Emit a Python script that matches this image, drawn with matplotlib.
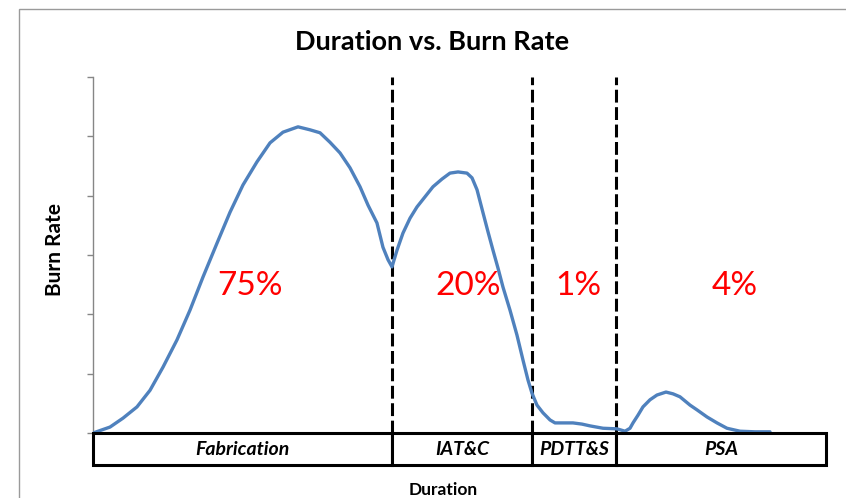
import matplotlib

matplotlib.use("Agg")

import matplotlib.pyplot as plt
from matplotlib.patches import Rectangle

# Duration (percent of program) vs. burn rate
duration = [0.00, 2.32, 4.09, 6.00, 7.78, 9.55, 11.46, 13.23, 15.01, 16.92, 18.69,
            20.46, 22.37, 24.15, 25.92, 27.97, 29.60, 30.97, 32.33, 33.70, 35.06,
            36.43, 37.52, 38.74, 39.56, 40.25, 40.79, 41.47, 42.29, 43.25, 44.20,
            45.29, 46.38, 47.61, 48.70, 49.80, 51.02, 51.71, 52.39, 53.21, 53.89,
            54.57, 55.25, 55.93, 56.89, 57.84, 58.66, 59.35, 59.89, 60.57, 61.39,
            62.35, 63.03, 64.12, 65.48, 66.71, 67.80, 69.58, 71.49, 72.58, 73.26,
            73.67, 74.35, 75.03, 75.99, 76.94, 78.17, 79.13, 80.08, 81.45, 82.40,
            83.77, 85.13, 86.49, 88.27, 90.31, 92.36]
burn_rate = [0.00, 0.10, 0.25, 0.44, 0.72, 1.11, 1.57, 2.07, 2.63, 3.20, 3.72,
             4.18, 4.57, 4.89, 5.07, 5.16, 5.11, 5.06, 4.90, 4.72, 4.47,
             4.15, 3.84, 3.54, 3.13, 2.92, 2.80, 3.08, 3.37, 3.62, 3.81,
             3.98, 4.15, 4.28, 4.38, 4.40, 4.38, 4.30, 4.10, 3.71, 3.39,
             3.08, 2.78, 2.46, 2.07, 1.65, 1.23, 0.89, 0.67, 0.47, 0.34,
             0.22, 0.17, 0.17, 0.17, 0.15, 0.12, 0.08, 0.07, 0.03, 0.08,
             0.17, 0.30, 0.44, 0.56, 0.64, 0.69, 0.66, 0.61, 0.47, 0.39,
             0.27, 0.17, 0.08, 0.03, 0.02, 0.02]

phases = ["Fabrication", "IAT&C", "PDTT&S", "PSA"]
phase_edges = [0.0, 40.8, 59.9, 71.4, 100.0]
phase_share = ["75%", "20%", "1%", "4%"]
share_x = [21.4, 51.2, 66.2, 87.6]

FONT = "Lato"
BLUE = "#4F81BD"

fig = plt.figure(figsize=(8.46, 4.98), dpi=100)
W, H = 846, 498

# outer chart frame (cropped on the right/bottom like the reference)
fig.patches.append(Rectangle((19 / W, -0.02), 1.0, 1 - 9 / H + 0.02,
                             transform=fig.transFigure, fill=False,
                             edgecolor="#9a9a9a", linewidth=1.0))

ax = fig.add_axes([93 / W, 1 - 433 / H, (826 - 93) / W, (433 - 77) / H])
ax.set_xlim(phase_edges[0], phase_edges[-1])
ax.set_ylim(0, 6)

ax.plot(duration, burn_rate, color=BLUE, linewidth=2.4,
        solid_joinstyle="round", solid_capstyle="round", zorder=3)

for edge in phase_edges[1:-1]:
    ax.plot([edge, edge], [0, 6], color="black", linewidth=2.2,
            dashes=(4.2, 1.5), zorder=2)

box_bottom = -0.54
for i, name in enumerate(phases):
    x0, x1 = phase_edges[i], phase_edges[i + 1]
    ax.add_patch(Rectangle((x0, box_bottom), x1 - x0, -box_bottom,
                           facecolor="white", edgecolor="black", linewidth=2.2,
                           clip_on=False, zorder=4))
    ax.text((x0 + x1) / 2, box_bottom / 2, name, ha="center", va="center",
            fontsize=14, fontweight="bold", fontstyle="italic",
            family=FONT, zorder=5, clip_on=False)

for x, share in zip(share_x, phase_share):
    ax.text(x, 2.48, share, ha="center", va="center", color="#ff0000",
            fontsize=24, family=FONT, zorder=5)

for side in ["top", "right", "bottom"]:
    ax.spines[side].set_visible(False)
ax.spines["left"].set_color("#868686")
ax.spines["left"].set_linewidth(1.0)
ax.set_yticks(range(7))
ax.tick_params(axis="y", length=4.5, width=1.0, color="#868686", labelleft=False)
ax.set_xticks([])

fig.text(432 / W, 1 - 42 / H, "Duration vs. Burn Rate", ha="center", va="center",
         fontsize=19.5, fontweight="bold", family=FONT)
fig.text(443 / W, 1 - 490 / H, "Duration", ha="center", va="center",
         fontsize=12.5, fontweight="bold", family=FONT)
fig.text(55 / W, 1 - 250 / H, "Burn Rate", ha="center", va="center", rotation=90,
         fontsize=15, fontweight="bold", family=FONT)

fig.savefig("out.png", dpi=100)
plt.close(fig)
